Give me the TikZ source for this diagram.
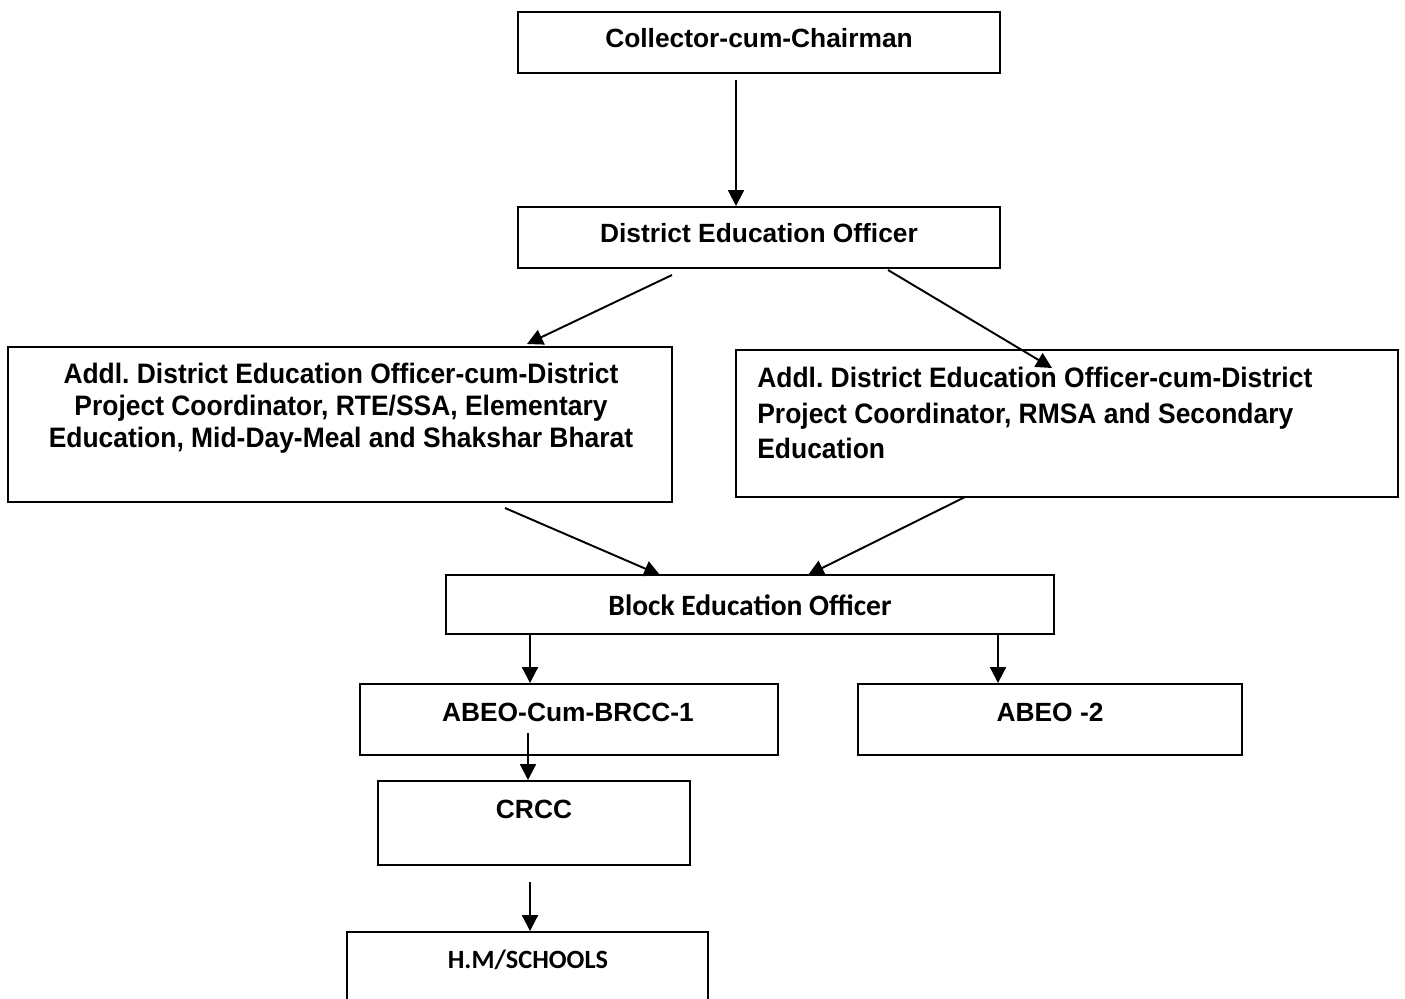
\documentclass[tikz,border=0pt]{standalone}
\usepackage{fontspec}
\setmainfont{Liberation Sans}
\newfontfamily\narrowfont[FakeStretch=0.94]{Liberation Sans}
\newfontfamily\calibrifont{Carlito}
\frenchspacing
\usetikzlibrary{arrows.meta,fit}
\tikzset{
  every picture/.style={line join=miter, >={Triangle[length=9pt,width=9pt]}},
  box/.style={draw, line width=1.1pt, inner sep=0pt},
  lbl/.style={font=\bfseries\fontsize{15}{18}\selectfont, inner sep=0pt},
  narrowlbl/.style={font=\narrowfont\bfseries\fontsize{16}{18.2}\selectfont, inner sep=0pt},
  callbl/.style={font=\calibrifont\bfseries\fontsize{16.8}{19}\selectfont, inner sep=0pt},
  link/.style={->, line width=1.1pt},
}
\begin{document}
\begin{tikzpicture}[x=0.02cm,y=-0.02cm]
\useasboundingbox (0,0) rectangle (1405,998);
% boxes
\node[box, fit={(518,12) (1000,73)}] (coll) {};
\node[box, fit={(518,207) (1000,268)}] (deo) {};
\node[box, fit={(8,347) (672,502)}] (adeo1) {};
\node[box, fit={(736,350) (1398,497)}] (adeo2) {};
\node[box, fit={(446,575) (1054,634)}] (beo) {};
\node[box, fit={(360,684) (778,755)}] (abeo1) {};
\node[box, fit={(858,684) (1242,755)}] (abeo2) {};
\node[box, fit={(378,781) (690,865)}] (crcc) {};
\node[box, fit={(347,932) (708,1010)}] (hm) {};
% texts
\node[lbl] (coll-t) at (759,38) {Collector-cum-Chairman};
\node[lbl] (deo-t) at (759,233) {District Education Officer};
\node[narrowlbl, align=center] (adeo1-t) at (341,408) {Addl. District Education Officer-cum-District\\Project Coordinator, RTE/SSA, Elementary\\Education, Mid-Day-Meal and Shakshar Bharat};
\node[narrowlbl, align=left, anchor=west, font=\narrowfont\bfseries\fontsize{16}{20}\selectfont] (adeo2-t) at (757,413) {Addl. District Education Officer-cum-District\\Project Coordinator, RMSA and Secondary\\Education};
\node[callbl] (beo-t) at (750,605) {Block Education Officer};
\node[lbl] (abeo1-t) at (568,712) {ABEO-Cum-BRCC-1};
\node[lbl] (abeo2-t) at (1050,712) {ABEO -2};
\node[lbl] (crcc-t) at (534,809) {CRCC};
\node[callbl, font=\calibrifont\bfseries\fontsize{15}{17}\selectfont] (hm-t) at (528,960) {H.M/SCHOOLS};
% connectors
\coordinate (c1) at (736,80);
\coordinate (d1) at (672,275);
\coordinate (d1e) at (527,344);
\coordinate (d2) at (888,270);
\coordinate (d2e) at (1052,368);
\coordinate (a1) at (505,508);
\coordinate (a1e) at (660,575);
\coordinate (a2) at (965,497);
\coordinate (a2e) at (808,575);
\coordinate (b1) at (530,634);
\coordinate (b2) at (998,634);
\coordinate (r1) at (528,733);
\coordinate (k1) at (530,882);
\draw[link] (c1) -- (c1 |- deo.north);
\draw[link] (d1) -- (d1e);
\draw[link] (d2) -- (d2e);
\draw[link] (a1) -- (a1e);
\draw[link] (a2) -- (a2e);
\draw[link] (b1) -- (b1 |- abeo1.north);
\draw[link] (b2) -- (b2 |- abeo2.north);
\draw[link] (r1) -- (r1 |- crcc.north);
\draw[link] (k1) -- (k1 |- hm.north);
\end{tikzpicture}
\end{document}
